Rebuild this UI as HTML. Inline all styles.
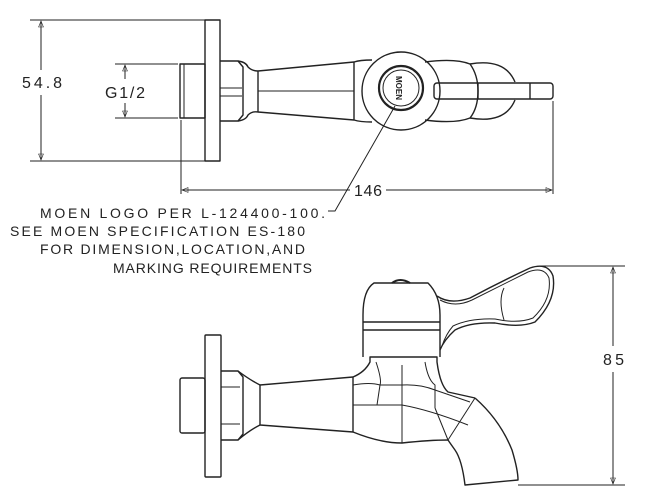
<!DOCTYPE html>
<html><head><meta charset="utf-8"><style>
html,body{margin:0;padding:0;background:#fff;}
svg{display:block;}
text{font-family:"Liberation Sans",sans-serif;fill:#222;}
</style></head><body>
<svg width="665" height="500" viewBox="0 0 665 500" xmlns="http://www.w3.org/2000/svg">
<defs>
<marker id="a" viewBox="0 0 10 10" refX="10" refY="5" markerWidth="12" markerHeight="6" orient="auto-start-reverse" markerUnits="userSpaceOnUse"><path d="M0,1 L10,5 L0,9 z" fill="none" stroke="#222" stroke-width="1"/></marker>
</defs>
<g fill="none" stroke="#222" stroke-width="1.4" stroke-linejoin="round">
<!-- TOP VIEW -->
<!-- 54.8 dim -->
<line x1="30" y1="20" x2="220" y2="20" stroke-width="1"/>
<line x1="30" y1="161" x2="220" y2="161" stroke-width="1"/>
<line x1="41" y1="70" x2="41" y2="21" stroke-width="1" marker-end="url(#a)"/>
<line x1="41" y1="95" x2="41" y2="160" stroke-width="1" marker-end="url(#a)"/>
<!-- G1/2 dim -->
<line x1="115" y1="64" x2="178" y2="64" stroke-width="1"/>
<line x1="115" y1="118" x2="178" y2="118" stroke-width="1"/>
<line x1="125" y1="79" x2="125" y2="65" stroke-width="1" marker-end="url(#a)"/>
<line x1="125" y1="103" x2="125" y2="117" stroke-width="1" marker-end="url(#a)"/>
<!-- nipple -->
<rect x="180" y="64" width="25" height="54"/>
<line x1="184" y1="64" x2="184" y2="118" stroke-width="1"/>
<!-- flange -->
<rect x="205" y="20" width="15" height="141"/>
<!-- hex -->
<path d="M220,61 H238 L243,67 V115 L238,121 H220"/>
<line x1="220" y1="88" x2="242" y2="88" stroke-width="1"/>
<line x1="220" y1="96" x2="242" y2="96" stroke-width="1"/>
<path d="M238,61 Q246,62 248,67 Q252,71 258,71 M238,121 Q246,120 248,115 Q252,111 258,112"/>
<!-- body -->
<path d="M258,71 L354,62 M258,112 L354,120 M258,71 V112 M354,62 V120"/>
<line x1="258" y1="91" x2="354" y2="91" stroke-width="1"/>
<!-- behind cap -->
<path d="M425,62 Q455,58 470,64 Q478,75 478,91 Q478,108 470,118 Q455,124 425,120"/>
<path d="M470,64 Q505,58 515,82 M470,118 Q505,124 515,100"/>
<path d="M354,62 Q360,60 372,60 M354,120 Q360,122 372,122"/>
<!-- cap circle -->
<circle cx="401" cy="91" r="39"/>
<circle cx="401" cy="88" r="22" stroke-width="2.2"/>
<circle cx="401" cy="88" r="18" stroke-width="1"/>
<text x="0" y="0" font-size="8" font-weight="bold" transform="translate(396,76) rotate(90)" stroke="none">MOEN</text>
<!-- lever -->
<rect x="434" y="83" width="119" height="16" rx="3"/>
<line x1="478" y1="83" x2="478" y2="99"/>
<line x1="530" y1="83" x2="530" y2="99"/>
<!-- 146 dim -->
<line x1="181" y1="120" x2="181" y2="194" stroke-width="1"/>
<line x1="553" y1="101" x2="553" y2="194" stroke-width="1"/>
<line x1="350" y1="190" x2="182" y2="190" stroke-width="1" marker-end="url(#a)"/>
<line x1="386" y1="190" x2="552" y2="190" stroke-width="1" marker-end="url(#a)"/>
<!-- leader -->
<polyline points="395,106 335,211 328,211" stroke-width="1"/>

<!-- BOTTOM VIEW -->
<rect x="180" y="378" width="25" height="55" rx="2"/>
<rect x="205" y="335" width="16" height="142" rx="1"/>
<path d="M221,371 H238 L243,377 V434 L238,440 H221"/>
<path d="M221,387 H240 M221,424 H240" stroke-width="1"/>
<path d="M238,371 Q250,380 260,385 M238,440 Q250,430 260,425"/>
<path d="M260,385 V425 M260,385 L353,377 M260,425 L353,432"/>
<!-- central housing -->
<path d="M353,377 Q365,372 370,362 V357 H437 V362 Q440,385 448,392 L475,398"/>
<path d="M353,377 V432"/>
<path d="M353,432 Q380,443 402,443 Q430,440 448,440"/>
<path d="M353,385 Q370,382 380,385 M353,405 H402 M402,365 V443" stroke-width="1"/>
<path d="M376,362 Q382,380 380,385 L377,405 M425,362 Q428,380 435,385 L435,408 M402,385 Q420,384 435,390 L470,402 M402,405 Q430,410 468,425 M435,408 L448,440 M380,385 L402,385" stroke-width="1"/>
<!-- spout -->
<path d="M475,398 Q500,420 512,450 Q518,470 518,480 L465,485 Q462,460 455,450 Q450,443 448,440"/>
<path d="M475,398 L448,440" stroke-width="1"/>
<!-- cap -->
<path d="M363,357 V315 Q363,290 374,283 H428 Q440,295 440,315 V357"/>
<path d="M392,283 Q400,277 410,283" stroke-width="2"/>
<line x1="363" y1="322" x2="440" y2="322"/>
<line x1="363" y1="330" x2="440" y2="330"/>
<!-- handle -->
<path d="M437,296 Q450,305 470,298 Q500,282 530,268 Q548,262 553,276 Q557,300 535,322 Q520,328 495,323 Q470,322 455,330 Q444,340 440,350"/>
<path d="M440,300 Q455,308 472,300 Q500,286 528,272 Q544,266 549,278 Q552,300 533,318 Q518,324 495,319 Q470,318 453,326 Q446,334 442,346" stroke-width="1"/>
<path d="M504,288 Q498,300 504,320" stroke-width="1"/>
<!-- 85 dim -->
<line x1="540" y1="266" x2="625" y2="266" stroke-width="1"/>
<line x1="518" y1="485" x2="625" y2="485" stroke-width="1"/>
<line x1="613" y1="346" x2="613" y2="267" stroke-width="1" marker-end="url(#a)"/>
<line x1="613" y1="372" x2="613" y2="484" stroke-width="1" marker-end="url(#a)"/>
</g>
<g stroke="none">
<text x="22" y="88" font-size="16" textLength="40" lengthAdjust="spacing">54.8</text>
<text x="105" y="98" font-size="16" textLength="40" lengthAdjust="spacing">G1/2</text>
<text x="354" y="196" font-size="16" textLength="28" lengthAdjust="spacing">146</text>
<text x="603" y="365" font-size="16" textLength="21" lengthAdjust="spacing">85</text>
<text x="40" y="218" font-size="14" textLength="285" lengthAdjust="spacing">MOEN LOGO PER L-124400-100.</text>
<text x="10" y="236" font-size="14" textLength="295" lengthAdjust="spacing">SEE MOEN SPECIFICATION ES-180</text>
<text x="40" y="254" font-size="14" textLength="265" lengthAdjust="spacing">FOR DIMENSION,LOCATION,AND</text>
<text x="113" y="273" font-size="14" textLength="199" lengthAdjust="spacing">MARKING REQUIREMENTS</text>
</g>
</svg>
</body></html>
